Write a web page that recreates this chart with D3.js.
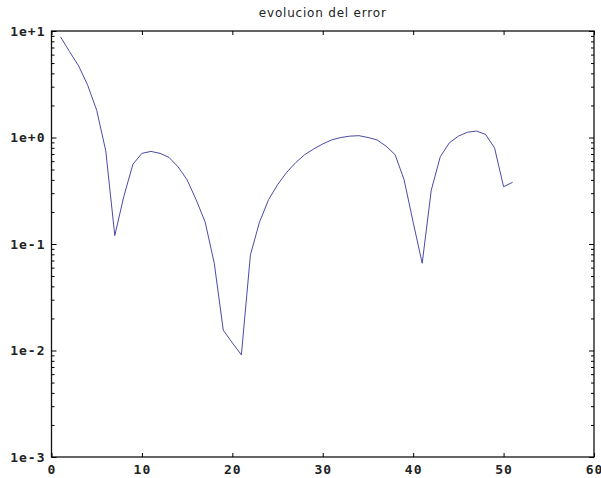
<!DOCTYPE html>
<html lang="en">
	<head>
		<meta charset="utf-8">
		<title>evolucion del error</title>
		<script src="https://d3js.org/d3.v7.min.js"></script>
		<style>
			body { margin: 0; background: #fff; }
			text { fill: #000; }
			.axis path { stroke: #000; }
			.axis line { stroke: #000; }
			.axis text { font-family: "DejaVu Sans Mono", monospace; font-size: 13px; font-weight: bold; letter-spacing: 1px; fill: #222; }
			.title { font-family: "DejaVu Sans", sans-serif; font-size: 12px; letter-spacing: 0.8px; fill: #222; }
		</style>
	</head>
	<body>
		<div id="chart"></div>
		<script type="text/javascript">
			// data
			var iterations = [1,2,3,4,5,6,7,8,9,10,11,12,13,14,15,16,17,18,19,20,21,22,23,24,25,26,27,28,29,30,31,32,33,34,35,36,37,38,39,40,41,42,43,44,45,46,47,48,49,50,51];
			var errors = [8.8,6.4,4.7,3.1,1.8,0.75,0.12,0.28,0.56,0.71,0.74,0.71,0.65,0.53,0.40,0.26,0.16,0.066,0.0155,0.0118,0.0091,0.079,0.16,0.26,0.36,0.47,0.58,0.69,0.78,0.87,0.95,1.0,1.03,1.04,1.0,0.95,0.83,0.69,0.40,0.16,0.066,0.32,0.66,0.89,1.03,1.12,1.15,1.07,0.80,0.345,0.38];
			var xTicks = [0,10,20,30,40,50,60];
			var yTicks = [1e-3,1e-2,1e-1,1e+0,1e+1];
			var yTickLabels = ["1e-3","1e-2","1e-1","1e+0","1e+1"];

			var w = 601, h = 478;
			var plotL = 51.5, plotR = 594, plotT = 31, plotB = 457;

			var svg = d3.select("#chart").append("svg").attr("width",w).attr("height",h);

			var xScale = d3.scaleLinear().domain([0,60]).range([plotL,plotR]);
			var yScale = d3.scaleLog().domain([1e-3,1e+1]).range([plotB,plotT]);

			var minor = [];
			for (var d=0; d<yTicks.length-1; d++) {
				for (var k=2; k<10; k++) minor.push(yTicks[d]*k);
			}

			// frame
			svg.append("rect").attr("x",plotL).attr("y",plotT).attr("width",plotR-plotL).attr("height",plotB-plotT)
				.attr("fill","none").attr("stroke","#111").attr("stroke-width",1.3);

			// x axes (bottom with labels, top ticks only)
			var xAxis = d3.axisBottom(xScale).tickValues(xTicks).tickSize(-4).tickPadding(8).tickFormat(d3.format("d"));
			svg.append("g").attr("class","axis").attr("transform","translate(0,"+plotB+")").call(xAxis);
			svg.append("g").attr("class","axis").attr("transform","translate(0,"+plotT+")")
				.call(d3.axisTop(xScale).tickValues(xTicks).tickSize(-4).tickFormat(""));

			// y axes
			var yAxis = d3.axisLeft(yScale).tickValues(yTicks).tickSize(-5).tickPadding(6)
				.tickFormat(function(d,i) { return yTickLabels[i]; });
			svg.append("g").attr("class","axis").attr("transform","translate("+plotL+",0)").call(yAxis);
			svg.append("g").attr("class","axis").attr("transform","translate("+plotL+",0)")
				.call(d3.axisLeft(yScale).tickValues(minor).tickSize(-3).tickFormat(""));
			svg.append("g").attr("class","axis").attr("transform","translate("+plotR+",0)")
				.call(d3.axisRight(yScale).tickValues(yTicks).tickSize(-5).tickFormat(""));
			svg.append("g").attr("class","axis").attr("transform","translate("+plotR+",0)")
				.call(d3.axisRight(yScale).tickValues(minor).tickSize(-3).tickFormat(""));
			svg.selectAll(".axis .domain").remove();

			// line
			var line = d3.line().x(function(d,i) { return xScale(iterations[i]); }).y(function(d) { return yScale(d); });
			svg.append("path").datum(errors).attr("d",line).attr("fill","none")
				.attr("stroke","#4a4aa8").attr("stroke-width",1);

			// title
			svg.append("text").attr("class","title").attr("x",(plotL+plotR)/2).attr("y",17)
				.attr("text-anchor","middle").text("evolucion del error");
		</script>
	</body>
</html>
